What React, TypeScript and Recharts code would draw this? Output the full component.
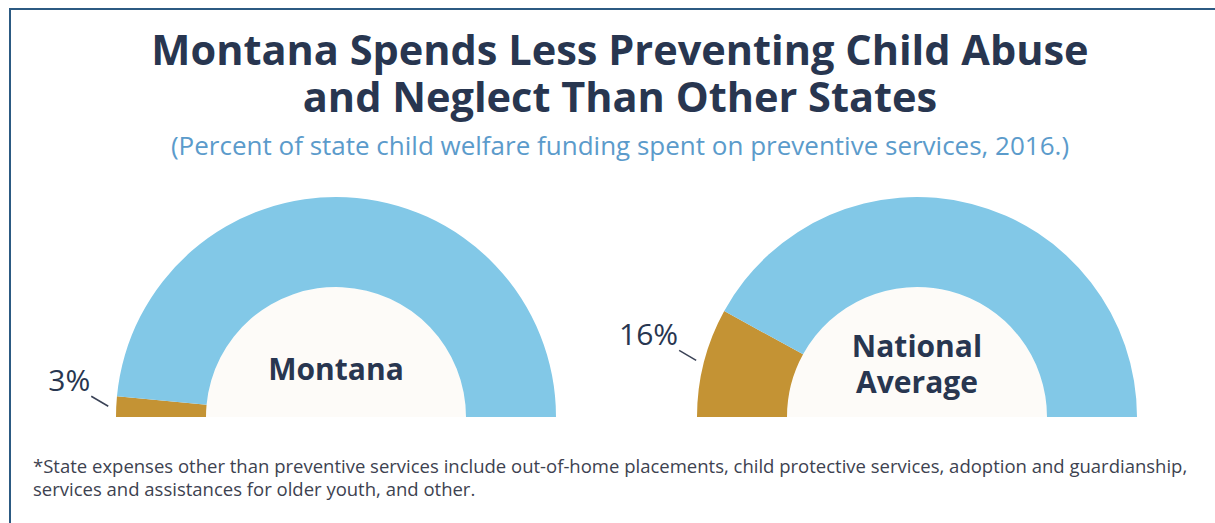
import React from "react";
import { PieChart, Pie, Cell } from "recharts";

const TITLE_LINES = ["Montana Spends Less Preventing Child Abuse", "and Neglect Than Other States"];
const SUBTITLE = "(Percent of state child welfare funding spent on preventive services, 2016.)";
const FOOTNOTE_LINES = [
  "*State expenses other than preventive services include out-of-home placements, child protective services, adoption and guardianship,",
  "services and assistances for older youth, and other.",
];

const categories = ["Preventive services", "Other expenses"];
const montanaValues = [3, 97];
const nationalValues = [16, 84];
const centerLabels = [["Montana"], ["National", "Average"]];

const COLORS = ["#c49334", "#82c8e7"];
const NAVY = "#283650";
const FONT = "'Open Sans', sans-serif";

const montanaData = categories.map((name, i) => ({ name, value: montanaValues[i] }));
const nationalData = categories.map((name, i) => ({ name, value: nationalValues[i] }));
const holeData = [{ name: "hole", value: 1 }];

const RAD = Math.PI / 180;

const renderLabel = (props: any) => {
  const { cx, cy, midAngle, outerRadius, index, value } = props;
  if (index !== 0) return null;
  const x0 = cx + (outerRadius + 8) * Math.cos(-midAngle * RAD);
  const y0 = cy + (outerRadius + 8) * Math.sin(-midAngle * RAD);
  const x1 = x0 - 17;
  const y1 = y0 - 10;
  return (
    <g>
      <line x1={x0} y1={y0} x2={x1} y2={y1} stroke="#3a4256" strokeWidth={1.5} />
      <text
        x={x1 - 1}
        y={y1 - 5}
        textAnchor="end"
        fill={NAVY}
        fontFamily={FONT}
        fontSize={30}
      >
        {value}%
      </text>
    </g>
  );
};

const CY = 417;
const IR = 130;
const OR = 220;
const CX1 = 336;
const CX2 = 917;

export default function App() {
  return (
    <div
      style={{
        position: "absolute",
        left: 0,
        top: 0,
        width: 1215,
        height: 523,
        background: "#ffffff",
        overflow: "hidden",
        fontFamily: FONT,
      }}
    >
      <div
        style={{
          position: "absolute",
          left: 9,
          top: 8,
          width: 1300,
          height: 600,
          borderLeft: "2px solid #2c5a82",
          borderTop: "2px solid #2c5a82",
        }}
      />
      <div style={{ position: "absolute", left: 0, top: 0 }}>
        <PieChart width={1215} height={523} margin={{ top: 0, right: 0, bottom: 0, left: 0 }}>
          <Pie
            data={holeData}
            dataKey="value"
            cx={CX1}
            cy={CY}
            startAngle={180}
            endAngle={0}
            innerRadius={0}
            outerRadius={IR}
            stroke="none"
            fill="#fdfbf8"
            isAnimationActive={false}
          />
          <Pie
            data={holeData}
            dataKey="value"
            cx={CX2}
            cy={CY}
            startAngle={180}
            endAngle={0}
            innerRadius={0}
            outerRadius={IR}
            stroke="none"
            fill="#fdfbf8"
            isAnimationActive={false}
          />
          <Pie
            data={montanaData}
            dataKey="value"
            cx={CX1}
            cy={CY}
            startAngle={180}
            endAngle={0}
            innerRadius={IR}
            outerRadius={OR}
            stroke="none"
            label={renderLabel}
            labelLine={false}
            isAnimationActive={false}
          >
            {montanaData.map((d, i) => (
              <Cell key={d.name} fill={COLORS[i]} />
            ))}
          </Pie>
          <Pie
            data={nationalData}
            dataKey="value"
            cx={CX2}
            cy={CY}
            startAngle={180}
            endAngle={0}
            innerRadius={IR}
            outerRadius={OR}
            stroke="none"
            label={renderLabel}
            labelLine={false}
            isAnimationActive={false}
          >
            {nationalData.map((d, i) => (
              <Cell key={d.name} fill={COLORS[i]} />
            ))}
          </Pie>
        </PieChart>
      </div>

      <div
        style={{
          position: "absolute",
          left: 0,
          width: 1240,
          top: 26,
          textAlign: "center",
          fontSize: 41.5,
          fontWeight: 700,
          lineHeight: "47px",
          color: NAVY,
          whiteSpace: "nowrap",
        }}
      >
        {TITLE_LINES[0]}
        <br />
        {TITLE_LINES[1]}
      </div>
      <div
        style={{
          position: "absolute",
          left: 0,
          width: 1240,
          top: 128,
          textAlign: "center",
          fontSize: 26,
          lineHeight: "34px",
          color: "#5b9bcb",
          whiteSpace: "nowrap",
        }}
      >
        {SUBTITLE}
      </div>

      {[CX1, CX2].map((cx, k) => (
        <div
          key={k}
          style={{
            position: "absolute",
            left: cx - 120,
            width: 240,
            top: k === 0 ? 351 : 328,
            textAlign: "center",
            fontSize: 30,
            fontWeight: 700,
            lineHeight: "36px",
            color: NAVY,
          }}
        >
          {centerLabels[k][0]}
          {centerLabels[k].length > 1 ? <br /> : null}
          {centerLabels[k][1]}
        </div>
      ))}

      <div
        style={{
          position: "absolute",
          left: 33,
          top: 454,
          fontSize: 18.5,
          lineHeight: "23px",
          color: "#3d4250",
          whiteSpace: "nowrap",
        }}
      >
        {FOOTNOTE_LINES[0]}
        <br />
        {FOOTNOTE_LINES[1]}
      </div>
    </div>
  );
}
